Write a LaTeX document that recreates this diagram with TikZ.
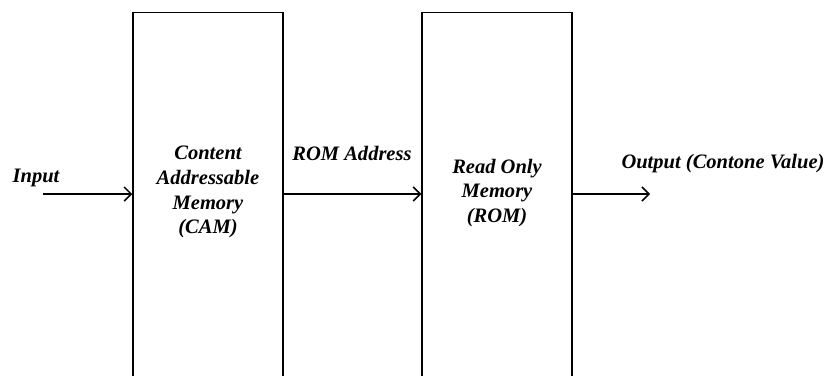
\documentclass[tikz,border=0pt]{standalone}
\usepackage{fontspec}
\setmainfont{Liberation Serif}
\usepackage{xcolor}
\usetikzlibrary{positioning, arrows.meta}
\tikzset{
	block/.style={draw=black, line width=1.5bp, minimum width=150bp, minimum height=420bp, anchor=north},
	lbl/.style={align=center, font=\fontsize{20.6}{25}\selectfont\bfseries\itshape},
	arr/.style={-{Straight Barb[length=7bp,width=14bp]}, line width=1.5bp},
}

\begin{document}
\begin{tikzpicture}[x=1bp, y=1bp]
\clip (0,0) rectangle (830,375);

% the two memories
\node[block] (cam) at (208,363) {};
\node[block] (rom) at (497,363) {};
\node[lbl] (camtext) at (208,183) {Content\\Addressable\\Memory\\(CAM)};
\node[lbl] (romtext) at (497,182) {Read Only\\Memory\\(ROM)};

% signals
\coordinate (in) at (43,181);
\coordinate (out) at (650,181);
\draw[arr] (in) -- (in -| cam.west);
\draw[arr] (cam.east |- in) -- (in -| rom.west);
\draw[arr] (rom.east |- out) -- (out);

\node[lbl] (inlbl) at (36,197) {Input};
\node[lbl] (addrlbl) at (352,222) {ROM Address};
\node[lbl] (outlbl) at (723,211) {Output (Contone Value)};
\end{tikzpicture}
\end{document}
